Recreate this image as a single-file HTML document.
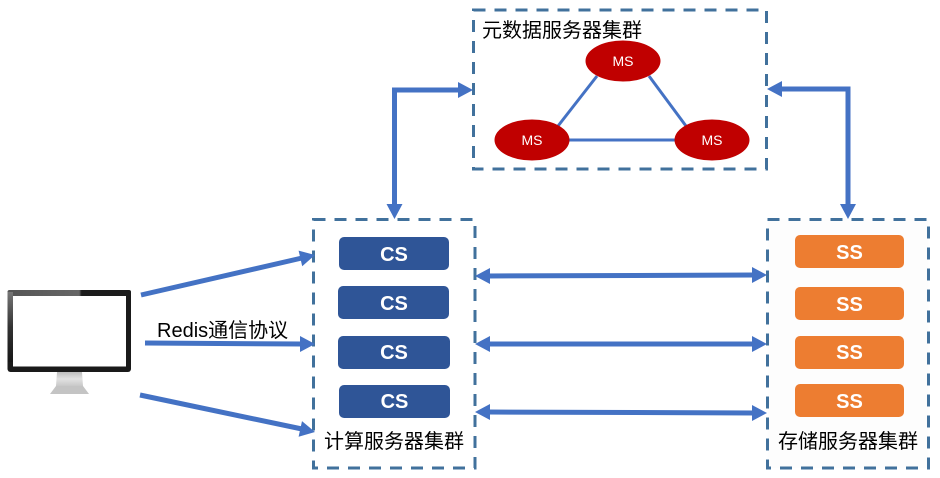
<!DOCTYPE html>
<html>
<head>
<meta charset="utf-8">
<style>
html,body{margin:0;padding:0;background:#fff;width:940px;height:478px;overflow:hidden}
svg{display:block}
text{font-family:"Liberation Sans","Noto Sans CJK SC",sans-serif}
.z{font-family:"Noto Sans CJK SC","WenQuanYi Zen Hei",sans-serif;font-size:20px;fill:#000}
.b{font-size:20px;font-weight:bold;fill:#fff;text-anchor:middle}
.m{font-size:14px;fill:#fff;text-anchor:middle}
</style>
</head>
<body>
<svg width="940" height="478" viewBox="0 0 940 478" xmlns="http://www.w3.org/2000/svg">
<defs>
<linearGradient id="bz" x1="0" y1="0" x2="0" y2="1">
<stop offset="0" stop-color="#777"/><stop offset="0.5" stop-color="#333"/><stop offset="1" stop-color="#161616"/>
</linearGradient>
<linearGradient id="st" x1="0" y1="0" x2="0" y2="1">
<stop offset="0" stop-color="#bdbdbd"/><stop offset="0.5" stop-color="#e2e2e2"/><stop offset="1" stop-color="#c8c8c8"/>
</linearGradient>
<linearGradient id="hd" x1="0" y1="0" x2="1" y2="0">
<stop offset="0" stop-color="#555"/><stop offset="0.58" stop-color="#666"/><stop offset="0.6" stop-color="#1c1c1c"/><stop offset="1" stop-color="#1c1c1c"/>
</linearGradient>
</defs>

<rect x="767.5" y="219.5" width="161" height="248.5" fill="#fdfdfd"/>

<!-- Dashed boxes -->
<g fill="none" stroke="#41719c" stroke-width="3" stroke-dasharray="12 9">
<rect x="473.5" y="10" width="293" height="159"/>
<rect x="313.5" y="219.5" width="161.5" height="248.5"/>
<rect x="767.5" y="219.5" width="161" height="248.5"/>
</g>

<!-- Triangle -->
<g stroke="#4472c4" stroke-width="3" fill="none">
<line x1="597" y1="76" x2="558" y2="126"/>
<line x1="649" y1="76" x2="686" y2="126"/>
<line x1="568" y1="140" x2="676" y2="140"/>
</g>

<!-- Ellipses -->
<g fill="#c00000">
<ellipse cx="623" cy="61" rx="37.5" ry="20.5"/>
<ellipse cx="532" cy="140" rx="37.5" ry="20.5"/>
<ellipse cx="712" cy="140" rx="37.5" ry="20.5"/>
</g>
<text class="m" x="623" y="66">MS</text>
<text class="m" x="532" y="145">MS</text>
<text class="m" x="712" y="145">MS</text>

<!-- CS -->
<g fill="#2f5597">
<rect x="339" y="237" width="110" height="33" rx="5"/>
<rect x="338" y="286" width="111" height="33" rx="5"/>
<rect x="338" y="336" width="112" height="33" rx="5"/>
<rect x="339" y="385" width="111" height="33" rx="5"/>
</g>
<text class="b" x="394" y="261">CS</text>
<text class="b" x="394" y="310">CS</text>
<text class="b" x="394" y="359">CS</text>
<text class="b" x="394.5" y="408">CS</text>

<!-- SS -->
<g fill="#ed7d31">
<rect x="795" y="235" width="109" height="33" rx="5"/>
<rect x="795" y="287" width="109" height="33" rx="5"/>
<rect x="795" y="336" width="109" height="33" rx="5"/>
<rect x="795" y="384" width="109" height="33" rx="5"/>
</g>
<text class="b" x="849.5" y="259">SS</text>
<text class="b" x="849.5" y="311">SS</text>
<text class="b" x="849.5" y="359">SS</text>
<text class="b" x="849.5" y="408">SS</text>

<!-- Arrows -->
<g stroke="#4472c4" stroke-width="5" fill="none">
<path d="M394.5 207V90H460"/>
<path d="M780 89H848V206"/>
<line x1="141" y1="295" x2="302" y2="258"/>
<line x1="145" y1="343" x2="302" y2="344"/>
<line x1="140" y1="395" x2="302" y2="429"/>
<line x1="488" y1="276" x2="754" y2="275"/>
<line x1="488" y1="344" x2="754" y2="344"/>
<line x1="488" y1="412" x2="754" y2="413"/>
</g>
<g fill="#4472c4">
<polygon points="473,90 458,82 458,98"/>
<polygon points="394.500,219 386.500,204 402.500,204"/>
<polygon points="767,89 782,81 782,97"/>
<polygon points="848,219 840,204 856,204"/>
<polygon points="315,255 298.600,250.600 302.200,266.200"/>
<polygon points="315,344 300,336 300,352"/>
<polygon points="315,432 302,421.100 298.600,436.700"/>
<polygon points="475,276 490,268 490,284"/>
<polygon points="767,275 752,267 752,283"/>
<polygon points="475,344 490,336 490,352"/>
<polygon points="767,344 752,336 752,352"/>
<polygon points="475,412 490,404 490,420"/>
<polygon points="767,413 752,405 752,421"/>
</g>

<!-- Labels -->
<text class="z" x="482" y="37">元数据服务器集群</text>
<text class="z" x="324" y="448">计算服务器集群</text>
<text class="z" x="778" y="448">存储服务器集群</text>
<text x="157" y="337" style="font-size:20px;fill:#000;font-family:'Liberation Sans','Noto Sans CJK SC',sans-serif">Redis通信协议</text>

<!-- Monitor -->
<polygon points="57,372 82,372 83,386 56,386" fill="url(#st)"/>
<polygon points="56,386 83,386 89,394 50,394" fill="#c4c4c4"/>
<rect x="7.5" y="290" width="123.5" height="82" rx="3" fill="#1a1a1a"/>
<rect x="7.5" y="290" width="123.5" height="6" rx="2" fill="url(#hd)"/>
<rect x="7.5" y="292" width="5.500" height="70" fill="url(#bz)"/>
<rect x="13" y="296" width="113" height="70.500" fill="#fff"/>
</svg>
</body>
</html>
